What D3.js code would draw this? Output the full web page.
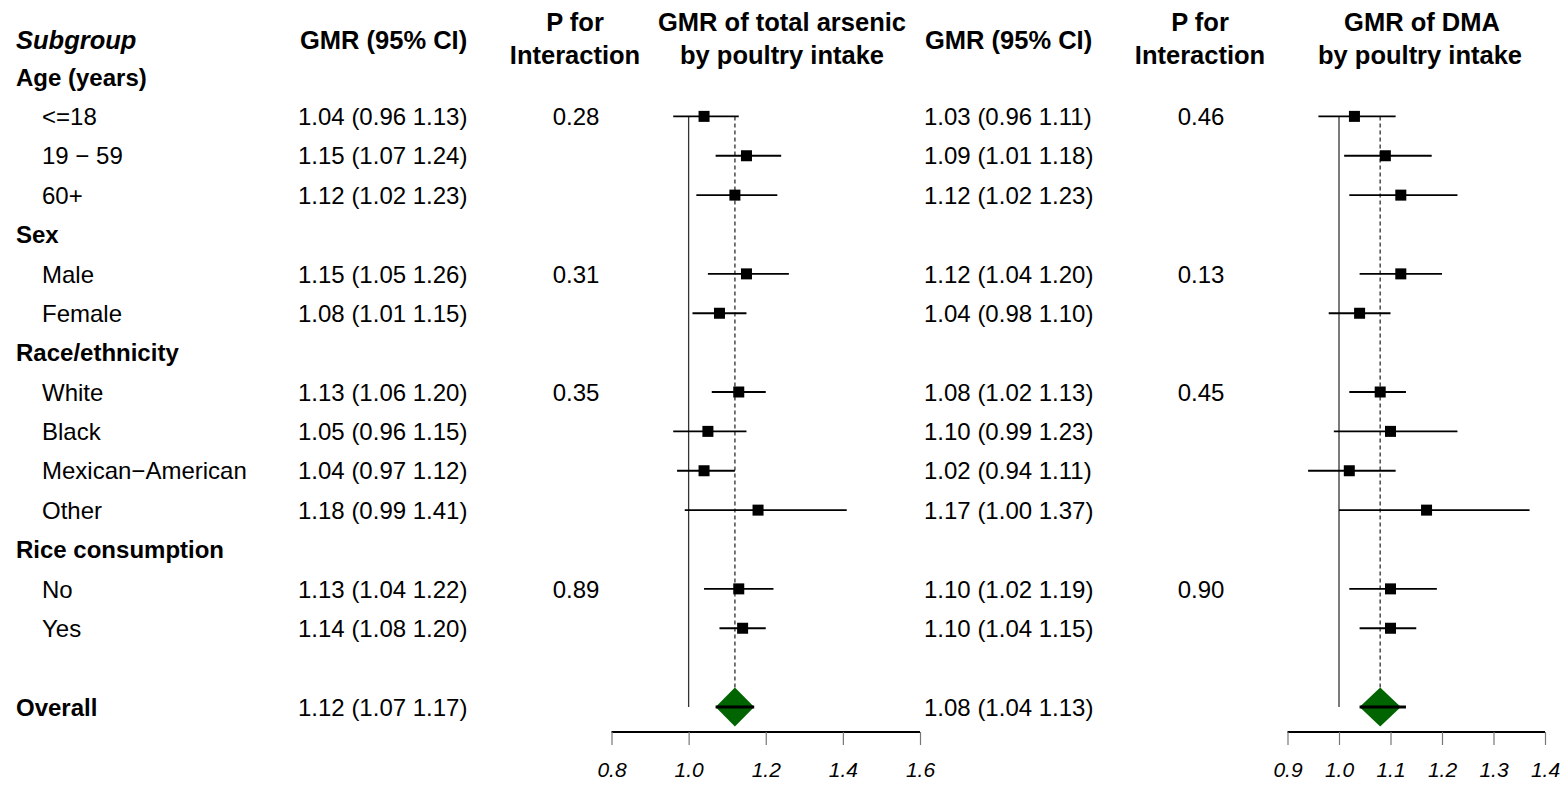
<!DOCTYPE html>
<html>
<head>
<meta charset="utf-8">
<script src="https://cdn.jsdelivr.net/npm/d3@7"></script>
<style>
  body { margin: 0; background: #fff; }
  text { font-family: "Liberation Sans", Arial, sans-serif; fill: #000; }
</style>
</head>
<body>
<div class="canvas"></div>
<script>
// subgroups and their rows
const groups = ["Age (years)", "Sex", "Race/ethnicity", "Rice consumption"];
const subgroups = [
  ["<=18", "19 − 59", "60+"],
  ["Male", "Female"],
  ["White", "Black", "Mexican−American", "Other"],
  ["No", "Yes"]
];

// total arsenic
const arsGmr  = [1.04, 1.15, 1.12, 1.15, 1.08, 1.13, 1.05, 1.04, 1.18, 1.13, 1.14];
const arsLow  = [0.96, 1.07, 1.02, 1.05, 1.01, 1.06, 0.96, 0.97, 0.99, 1.04, 1.08];
const arsHigh = [1.13, 1.24, 1.23, 1.26, 1.15, 1.20, 1.15, 1.12, 1.41, 1.22, 1.20];
const arsP = [0.28, 0.31, 0.35, 0.89];
const arsOverall = [1.12, 1.07, 1.17];

// DMA
const dmaGmr  = [1.03, 1.09, 1.12, 1.12, 1.04, 1.08, 1.10, 1.02, 1.17, 1.10, 1.10];
const dmaLow  = [0.96, 1.01, 1.02, 1.04, 0.98, 1.02, 0.99, 0.94, 1.00, 1.02, 1.04];
const dmaHigh = [1.11, 1.18, 1.23, 1.20, 1.10, 1.13, 1.23, 1.11, 1.37, 1.19, 1.15];
const dmaP = [0.46, 0.13, 0.45, 0.90];
const dmaOverall = [1.08, 1.04, 1.13];

const arsTicks = [0.8, 1.0, 1.2, 1.4, 1.6];
const dmaTicks = [0.9, 1.0, 1.1, 1.2, 1.3, 1.4];

// build rows
let rows = [];
let k = 0;
groups.forEach((g, gi) => {
  rows.push({ label: g, group: true });
  subgroups[gi].forEach((s, si) => {
    rows.push({ label: s, group: false, first: si === 0, gi: gi, k: k });
    k++;
  });
});
const overallRow = rows.length + 1;

const svg = d3.select('.canvas')
  .append('svg')
  .attr('width', 1568)
  .attr('height', 786);

const y = d3.scaleLinear().domain([0, overallRow]).range([77, 707]);
const xA = d3.scaleLinear().domain([0.8, 1.6]).range([611.5, 920]);
const xD = d3.scaleLinear().domain([0.9, 1.4]).range([1287.5, 1545]);
const f2 = d3.format(".2f");
const ci = (e, l, h) => `${f2(e)} (${f2(l)} ${f2(h)})`;

function txt(x, yy, s, opts = {}) {
  return svg.append('text')
    .attr('x', x).attr('y', yy)
    .attr('dy', '0.36em')
    .attr('text-anchor', opts.anchor || 'start')
    .style('font-size', (opts.size || 24) + 'px')
    .style('font-weight', opts.bold ? 'bold' : 'normal')
    .style('font-style', opts.italic ? 'italic' : 'normal')
    .text(s);
}

// headers
txt(16, 40, "Subgroup", { bold: true, italic: true, size: 25.5 });
txt(300, 40, "GMR (95% CI)", { bold: true, size: 25.5 });
txt(575, 22, "P for", { bold: true, size: 25.5, anchor: 'middle' });
txt(575, 55, "Interaction", { bold: true, size: 25.5, anchor: 'middle' });
txt(782, 22, "GMR of total arsenic", { bold: true, size: 25.5, anchor: 'middle' });
txt(782, 55, "by poultry intake", { bold: true, size: 25.5, anchor: 'middle' });
txt(925, 40, "GMR (95% CI)", { bold: true, size: 25.5 });
txt(1200, 22, "P for", { bold: true, size: 25.5, anchor: 'middle' });
txt(1200, 55, "Interaction", { bold: true, size: 25.5, anchor: 'middle' });
txt(1422, 22, "GMR of DMA", { bold: true, size: 25.5, anchor: 'middle' });
txt(1420, 55, "by poultry intake", { bold: true, size: 25.5, anchor: 'middle' });

// row text
rows.forEach((r, i) => {
  if (r.group) {
    txt(16, y(i), r.label, { bold: true });
    return;
  }
  txt(42, y(i), r.label);
  txt(298, y(i), ci(arsGmr[r.k], arsLow[r.k], arsHigh[r.k]));
  txt(924, y(i), ci(dmaGmr[r.k], dmaLow[r.k], dmaHigh[r.k]));
  if (r.first) {
    txt(576, y(i), f2(arsP[r.gi]), { anchor: 'middle' });
    txt(1201, y(i), f2(dmaP[r.gi]), { anchor: 'middle' });
  }
});
txt(16, y(overallRow), "Overall", { bold: true });
txt(298, y(overallRow), ci(...arsOverall));
txt(924, y(overallRow), ci(...dmaOverall));

// forest panels
function panel(x, gmr, low, high, overall, ticks) {
  const g = svg.append('g');
  const dataRows = rows.filter(r => !r.group);
  const yFirst = y(1), yOv = y(overallRow);
  const dh = 19.5;

  // reference line at 1
  g.append('line')
    .attr('x1', x(1)).attr('x2', x(1))
    .attr('y1', yFirst).attr('y2', yOv)
    .attr('stroke', '#333').attr('stroke-width', 1.3);
  // dashed line at overall
  g.append('line')
    .attr('x1', x(overall[0])).attr('x2', x(overall[0]))
    .attr('y1', yFirst).attr('y2', yOv - dh)
    .attr('stroke', '#555').attr('stroke-width', 1.6)
    .attr('stroke-dasharray', '4,3');

  dataRows.forEach(r => {
    const yy = y(rows.indexOf(r));
    g.append('line')
      .attr('x1', x(low[r.k])).attr('x2', x(high[r.k]))
      .attr('y1', yy).attr('y2', yy)
      .attr('stroke', '#000').attr('stroke-width', 1.8);
    g.append('rect')
      .attr('x', x(gmr[r.k]) - 5.5).attr('y', yy - 5.5)
      .attr('width', 11).attr('height', 11)
      .attr('fill', '#000');
  });

  // diamond
  const cx = x(overall[0]), hw = cx - x(overall[1]);
  g.append('path')
    .attr('d', `M${cx - hw},${yOv} L${cx},${yOv - dh} L${cx + hw},${yOv} L${cx},${yOv + dh} Z`)
    .attr('fill', '#006400');
  g.append('line')
    .attr('x1', x(overall[1])).attr('x2', x(overall[2]))
    .attr('y1', yOv).attr('y2', yOv)
    .attr('stroke', '#000').attr('stroke-width', 3);

  // axis
  const ax = g.append('g')
    .attr('transform', 'translate(0,732)')
    .call(d3.axisBottom(x).tickValues(ticks).tickSize(13).tickFormat(d3.format(".1f")));
  ax.select('.domain').attr('stroke', '#000').attr('stroke-width', 2.2)
    .attr('d', `M${x(ticks[0])},0H${x(ticks[ticks.length - 1])}`);
  ax.selectAll('.tick line').attr('stroke', '#777').attr('stroke-width', 1.2);
  ax.selectAll('.tick text')
    .attr('y', 30)
    .attr('font-size', null)
    .style('font-family', '"Liberation Sans", Arial, sans-serif')
    .style('font-size', '21px')
    .style('font-style', 'italic')
    .attr('fill', '#000');
  ax.attr('font-size', 21);
}

panel(xA, arsGmr, arsLow, arsHigh, arsOverall, arsTicks);
panel(xD, dmaGmr, dmaLow, dmaHigh, dmaOverall, dmaTicks);
</script>
</body>
</html>
